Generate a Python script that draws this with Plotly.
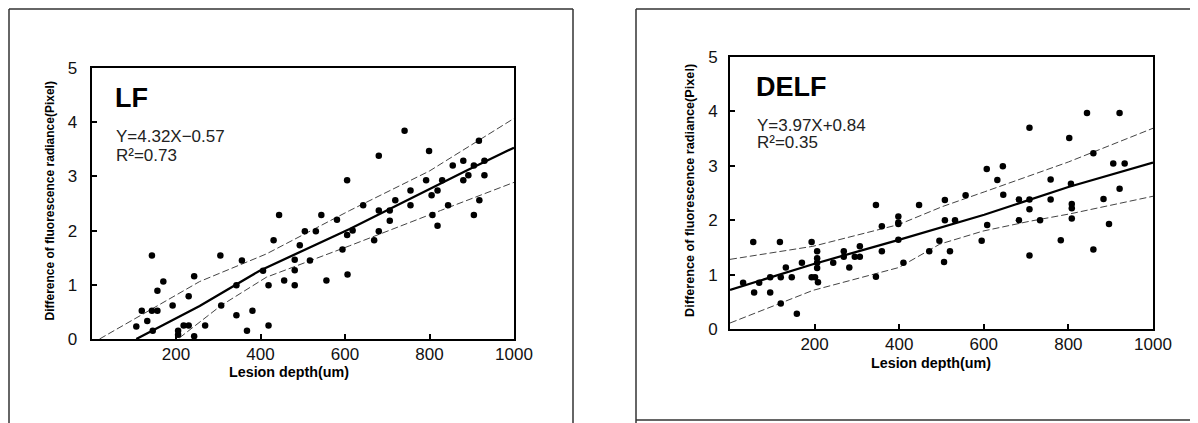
import plotly.graph_objects as go

W, H = 1198, 423
OFF = 8  # page offset of the figure (default body margin)

# ---------------- LF panel data (depth in um, difference in pixel) ----------------
lf_x = [106, 119, 132, 143, 143, 145, 156, 156, 170, 192, 205, 205, 218, 230, 230,
        243, 243, 269, 305, 307, 343, 343, 356, 368, 381, 406, 419, 419, 431, 444,
        456, 481, 481, 481, 493, 505, 517, 531, 544, 556, 581, 594, 605, 605, 606,
        618, 643, 669, 680, 680, 680, 706, 706, 719, 741, 755, 755, 792, 799, 805,
        807, 819, 819, 830, 844, 855, 880, 880, 892, 905, 905, 917, 918, 930, 930]
lf_y = [0.23, 0.52, 0.33, 1.54, 0.52, 0.15, 0.52, 0.89, 1.06, 0.62, 0.15, 0.08, 0.25, 0.25, 0.79,
        1.16, 0.05, 0.25, 1.54, 0.62, 0.44, 0.99, 1.45, 0.15, 0.52, 1.26, 0.25, 0.99, 1.82, 2.29,
        1.08, 1.46, 1.27, 0.99, 1.73, 1.99, 1.45, 1.99, 2.29, 1.08, 2.20, 1.65, 2.93, 1.92, 1.19,
        2.00, 2.47, 1.82, 3.38, 2.37, 1.99, 2.37, 2.18, 2.56, 3.84, 2.74, 2.47, 2.93, 3.47, 2.65,
        2.29, 2.74, 2.09, 2.93, 2.47, 3.20, 3.29, 2.93, 3.02, 2.29, 3.20, 3.66, 2.56, 3.29, 3.02]

lf_fit_x = [106, 256, 398, 611, 888, 1000]
lf_fit_y = [0.00, 0.61, 1.26, 2.03, 3.11, 3.53]
lf_up_x = [19, 256, 414, 611, 800, 1000]
lf_up_y = [0.00, 1.06, 1.57, 2.37, 3.10, 4.07]
lf_lo_x = [208, 307, 414, 611, 826, 1000]
lf_lo_y = [0.02, 0.62, 1.14, 1.72, 2.37, 2.89]

# ---------------- DELF panel data ----------------
delf_x = [31, 55, 57, 69, 95, 95, 118, 120, 120, 132, 146, 158, 170, 193, 193,
          201, 206, 206, 206, 206, 208, 244, 269, 269, 282, 295, 307, 307, 345, 345,
          359, 359, 398, 398, 398, 398, 410, 447, 471, 495, 506, 508, 508, 520, 532,
          557, 595, 607, 608, 632, 645, 646, 683, 683, 708, 708, 708, 708, 733, 758,
          758, 782, 802, 806, 808, 808, 808, 844, 859, 859, 883, 896, 906, 921, 921, 933]
delf_y = [0.85, 1.60, 0.67, 0.85, 0.95, 0.67, 1.60, 0.95, 0.47, 1.13, 0.95, 0.28, 1.22, 1.60, 0.95,
          0.95, 1.43, 1.30, 1.22, 1.12, 0.86, 1.22, 1.43, 1.33, 1.13, 1.33, 1.52, 1.33, 2.28, 0.96,
          1.89, 1.43, 2.07, 1.96, 1.93, 1.64, 1.22, 2.28, 1.43, 1.62, 1.23, 2.37, 2.00, 1.43, 2.00,
          2.46, 1.62, 2.94, 1.91, 2.74, 2.99, 2.47, 2.38, 2.00, 3.70, 2.38, 2.20, 1.35, 2.00, 2.75,
          2.38, 1.63, 3.51, 2.67, 2.30, 2.22, 2.03, 3.97, 3.23, 1.46, 2.39, 1.93, 3.04, 3.97, 2.58, 3.04]

delf_fit_x = [0, 196, 399, 601, 800, 1000]
delf_fit_y = [0.72, 1.19, 1.64, 2.10, 2.61, 3.06]
delf_up_x = [0, 196, 399, 502, 601, 800, 1000]
delf_up_y = [1.28, 1.52, 1.92, 2.25, 2.52, 3.07, 3.69]
delf_lo_x = [0, 196, 399, 496, 598, 708, 806, 1000]
delf_lo_y = [0.11, 0.71, 1.13, 1.56, 1.80, 1.98, 2.12, 2.44]

x_ticks = [200, 400, 600, 800, 1000]
y_ticks = [0, 1, 2, 3, 4, 5]

panel_names = ["LF", "DELF"]
equations = ["Y=4.32X\u22120.57", "Y=3.97X+0.84"]
r2_texts = ["R\u00b2=0.73", "R\u00b2=0.35"]
x_title = "Lesion depth(um)"
y_title = "Difference of fluorescence radiance(Pixel)"

FONT = "Liberation Sans, Arial, sans-serif"


def px(x):
    """page pixel x -> paper fraction"""
    return (x - OFF) / W


def py(y):
    """page pixel y (from top) -> paper fraction"""
    return 1 - (y - OFF) / H


fig = go.Figure()

panels = [
    dict(xs=lf_x, ys=lf_y, fx=lf_fit_x, fy=lf_fit_y, ux=lf_up_x, uy=lf_up_y,
         lx=lf_lo_x, ly=lf_lo_y, xa="x", ya="y"),
    dict(xs=delf_x, ys=delf_y, fx=delf_fit_x, fy=delf_fit_y, ux=delf_up_x, uy=delf_up_y,
         lx=delf_lo_x, ly=delf_lo_y, xa="x2", ya="y2"),
]

for p in panels:
    for bx, by in ((p["ux"], p["uy"]), (p["lx"], p["ly"])):
        fig.add_trace(go.Scatter(x=bx, y=by, mode="lines", xaxis=p["xa"], yaxis=p["ya"],
                                 line=dict(color="#444444", width=1, dash="7px,3px"),
                                 hoverinfo="skip"))
    fig.add_trace(go.Scatter(x=p["fx"], y=p["fy"], mode="lines", xaxis=p["xa"], yaxis=p["ya"],
                             line=dict(color="black", width=2.3), hoverinfo="skip"))
    fig.add_trace(go.Scatter(x=p["xs"], y=p["ys"], mode="markers", xaxis=p["xa"], yaxis=p["ya"],
                             marker=dict(color="black", size=6.5, line=dict(width=0))))

axis_common = dict(showgrid=False, zeroline=False, showline=True, linecolor="black",
                   linewidth=2, mirror=True, ticks="inside", ticklen=5, tickwidth=1.5,
                   tickcolor="black", automargin=False,
                   tickfont=dict(family=FONT, size=17, color="#111111"))

# plot-area page-pixel boxes: (left, right, top, bottom)
boxes = [(91.5, 514, 68, 339), (730, 1153, 57, 329)]

fig.update_layout(
    width=W, height=H, margin=dict(l=0, r=0, t=0, b=0, autoexpand=False),
    paper_bgcolor="white", plot_bgcolor="white", showlegend=False,
    xaxis=dict(domain=[px(boxes[0][0]), px(boxes[0][1])], range=[0, 1000],
               tickvals=x_ticks, anchor="y", ticklabelstandoff=-1, **axis_common),
    yaxis=dict(domain=[py(boxes[0][3]), py(boxes[0][2])], range=[0, 5],
               tickvals=y_ticks, anchor="x", ticklabelstandoff=9, **axis_common),
    xaxis2=dict(domain=[px(boxes[1][0]), px(boxes[1][1])], range=[0, 1000],
                tickvals=x_ticks, anchor="y2", ticklabelstandoff=-1, **axis_common),
    yaxis2=dict(domain=[py(boxes[1][3]), py(boxes[1][2])], range=[0, 5],
                tickvals=y_ticks, anchor="x2", ticklabelstandoff=7, **axis_common),
)

# panel titles and equations
name_pos = [(50, 4.44), (57, 4.44)]
eq_pos = [(53, 3.73, 3.38), (58, 3.75, 3.43)]
axrefs = [("x", "y"), ("x2", "y2")]
for i in range(2):
    xr, yr = axrefs[i]
    fig.add_annotation(x=name_pos[i][0], y=name_pos[i][1], xref=xr, yref=yr, text=panel_names[i],
                       showarrow=False, xanchor="left", yanchor="middle",
                       font=dict(family=FONT, size=27, color="black", weight="bold"))
    fig.add_annotation(x=eq_pos[i][0], y=eq_pos[i][1], xref=xr, yref=yr, text=equations[i],
                       showarrow=False, xanchor="left", yanchor="middle",
                       font=dict(family=FONT, size=17, color="#222222"))
    fig.add_annotation(x=eq_pos[i][0], y=eq_pos[i][2], xref=xr, yref=yr, text=r2_texts[i],
                       showarrow=False, xanchor="left", yanchor="middle",
                       font=dict(family=FONT, size=17, color="#222222"))

# axis titles
xt_pos = [(289, 371.5), (931, 363)]
yt_pos = [(50, 201.5, 12), (690, 190, 12.7)]
for i in range(2):
    fig.add_annotation(x=px(xt_pos[i][0]), y=py(xt_pos[i][1]), xref="paper", yref="paper",
                       text=x_title, showarrow=False, xanchor="center", yanchor="middle",
                       font=dict(family=FONT, size=14.3, color="black", weight="bold"))
    fig.add_annotation(x=px(yt_pos[i][0]), y=py(yt_pos[i][1]), xref="paper", yref="paper",
                       text=y_title, showarrow=False, textangle=-90, xanchor="center",
                       yanchor="middle",
                       font=dict(family=FONT, size=yt_pos[i][2], color="black", weight="bold"))

# outer frames around each panel (page pixels)
frame_lines = [
    (9, 9, 573, 9), (9, 9, 9, 431), (573, 9, 573, 431),
    (636, 9, 1206, 9), (636, 9, 636, 431), (636, 420, 1206, 420),
]
for x0, y0, x1, y1 in frame_lines:
    fig.add_shape(type="line", xref="paper", yref="paper", x0=px(x0), y0=py(y0),
                  x1=px(x1), y1=py(y1), line=dict(color="#333333", width=1.5))

fig.write_html("out.html", config={"displayModeBar": False})
